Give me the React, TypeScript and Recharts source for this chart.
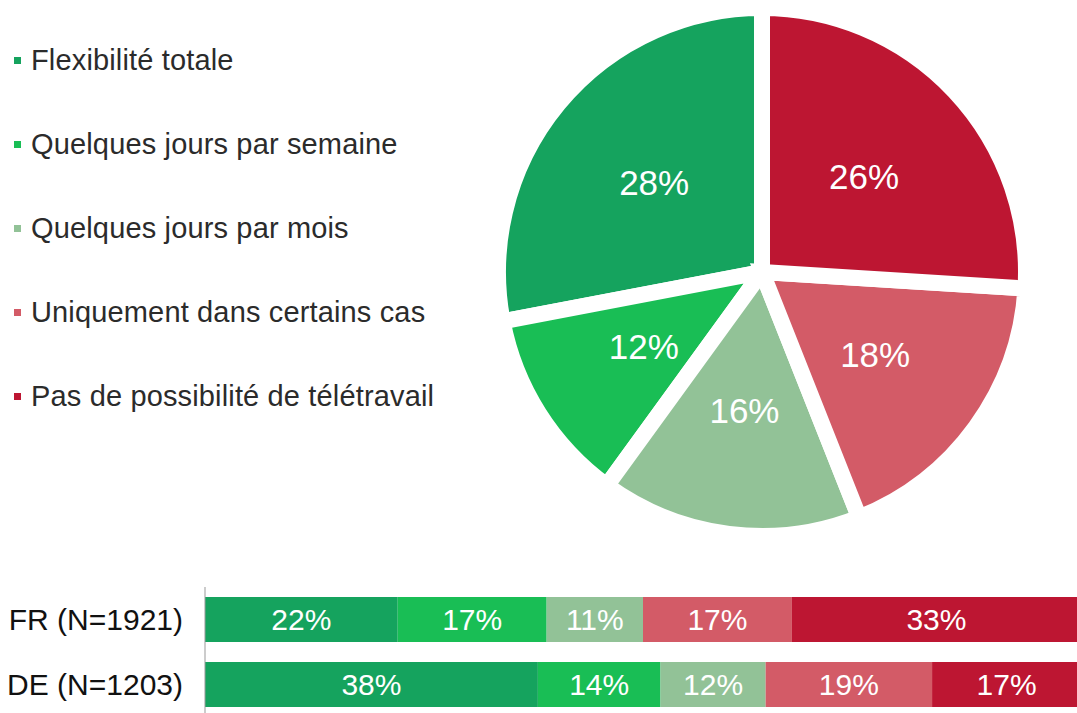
import { PieChart, Pie, Cell, BarChart, Bar, XAxis, YAxis, LabelList } from 'recharts';

const categories = [
  'Flexibilité totale',
  'Quelques jours par semaine',
  'Quelques jours par mois',
  'Uniquement dans certains cas',
  'Pas de possibilité de télétravail',
];
const seriesKeys = ['total', 'semaine', 'mois', 'cas', 'aucun'];
const colors = ['#15a35e', '#19be55', '#92c297', '#d35b67', '#bd1632'];

// overall split (pie)
const overallValues = [28, 12, 16, 18, 26];

// per-country split (stacked bars)
const countries = ['FR (N=1921)', 'DE (N=1203)'];
const frValues = [22, 17, 11, 17, 33];
const deValues = [38, 14, 12, 19, 17];

const pieData = categories.map((name, i) => ({ name, value: overallValues[i] }));

const barData = countries.map((country, row) => {
  const values = row === 0 ? frValues : deValues;
  const entry: Record<string, string | number> = { country };
  seriesKeys.forEach((key, i) => {
    entry[key] = values[i];
  });
  return entry;
});

const FONT = '"Liberation Sans", Arial, sans-serif';
const RAD = Math.PI / 180;

function renderPieLabel(props: any) {
  const { cx, cy, midAngle, outerRadius, value } = props;
  const r = outerRadius * 0.53;
  const x = cx + r * Math.cos(-midAngle * RAD);
  const y = cy + r * Math.sin(-midAngle * RAD);
  return (
    <text
      x={x}
      y={y}
      fill="#fff"
      fontSize={35}
      fontFamily={FONT}
      textAnchor="middle"
      dominantBaseline="central"
    >
      {`${value}%`}
    </text>
  );
}

function LegendList() {
  return (
    <div>
      {categories.map((name, i) => (
        <div
          key={name}
          style={{ height: 84, display: 'flex', alignItems: 'center', fontFamily: FONT }}
        >
          <span
            style={{ width: 7, height: 7, background: colors[i], marginRight: 10, display: 'inline-block' }}
          />
          <span style={{ fontSize: 29, color: '#2b2b2b', letterSpacing: 0.15 }}>{name}</span>
        </div>
      ))}
    </div>
  );
}

export default function App() {
  return (
    <div
      style={{
        position: 'fixed',
        left: 0,
        top: 0,
        width: 1077,
        height: 713,
        overflow: 'hidden',
        background: '#fff',
        fontFamily: FONT,
      }}
    >
      <div style={{ position: 'absolute', left: 0, top: 0 }}>
        <PieChart width={1077} height={560}>
          <Pie
            data={pieData}
            dataKey="value"
            nameKey="name"
            cx={757}
            cy={267}
            outerRadius={264}
            startAngle={90}
            endAngle={450}
            stroke="#fff"
            strokeWidth={16}
            label={renderPieLabel}
            labelLine={false}
            isAnimationActive={false}
          >
            {pieData.map((entry, i) => (
              <Cell key={entry.name} fill={colors[i]} />
            ))}
          </Pie>
        </PieChart>
      </div>

      <div style={{ position: 'absolute', left: 14, top: 18, width: 460 }}>
        <LegendList />
      </div>

      <div style={{ position: 'absolute', left: 0, top: 583 }}>
        <BarChart
          width={1081}
          height={134}
          data={barData}
          layout="vertical"
          margin={{ top: 4, right: 0, bottom: 0, left: 0 }}
          barSize={45}
        >
          <XAxis type="number" domain={[0, 100]} hide />
          <YAxis
            type="category"
            dataKey="country"
            width={205}
            tickLine={false}
            tickSize={0}
            tickMargin={22}
            axisLine={{ stroke: '#999' }}
            tick={{ fontSize: 30, fill: '#111', fontFamily: FONT }}
          />
          {seriesKeys.map((key, i) => (
            <Bar key={key} dataKey={key} stackId="a" fill={colors[i]} isAnimationActive={false}>
              <LabelList
                dataKey={key}
                position="center"
                formatter={(v: any) => `${v}%`}
                fill="#fff"
                fontSize={30}
                fontFamily={FONT}
              />
            </Bar>
          ))}
        </BarChart>
      </div>
    </div>
  );
}
